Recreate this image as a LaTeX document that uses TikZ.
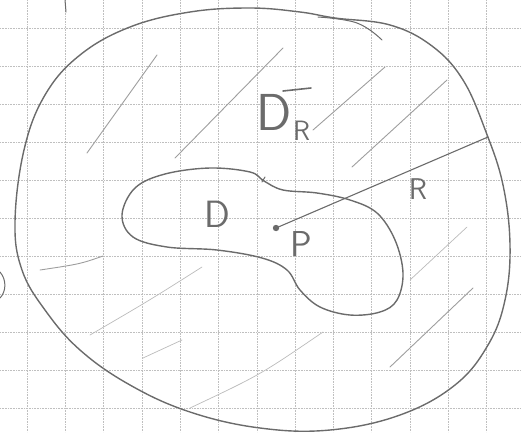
\documentclass[tikz,border=0pt]{standalone}
\usetikzlibrary{positioning}
\definecolor{pencil}{gray}{0.42}
\definecolor{lightpencil}{gray}{0.62}
\tikzset{
  paper/.style={densely dotted, gray!50, line width=0.6pt},
  curve/.style={draw=pencil, line width=1.4pt, line cap=round, line join=round},
  hatch/.style={draw=lightpencil, line width=0.9pt, line cap=round},
  faint/.style={draw=lightpencil!70, line width=0.7pt, line cap=round},
  lbl/.style={text=pencil, font=\sffamily, inner sep=0pt}
}
\begin{document}
\begin{tikzpicture}[x=1pt, y=-1pt]
  \useasboundingbox (0,0) rectangle (521,432);
  % graph paper
  \foreach \i in {0,...,13}
    \draw[paper] (27+38.3*\i,0) -- (27+38.3*\i,432);
  \foreach \j in {0,...,11}
    \draw[paper] (0,28+38*\j) -- (521,28+38*\j);
  % outer region
  \draw[curve] plot[smooth cycle, tension=0.65] coordinates {
    (15,222) (24,150) (45,95) (80,55) (130,27) (190,12) (250,8) (300,12)
    (335,18) (390,25) (432,46) (463,80) (486,132) (503,185) (510,245)
    (505,300) (488,345) (455,385) (400,415) (330,430) (260,428) (190,412)
    (130,385) (80,350) (45,310) (22,270)};
  \draw[curve, line width=1pt] plot[smooth, tension=0.7] coordinates {(318,17) (357,23) (382,40)};
  % inner domain D
  \draw[curve] plot[smooth cycle, tension=0.6] coordinates {
    (122,215) (135,188) (165,174) (210,168) (250,172) (264,181) (283,190)
    (317,193) (350,200) (377,213) (395,240) (403,273) (397,300) (380,312)
    (350,315) (320,307) (300,290) (287,270) (262,258) (217,250) (167,247)
    (133,237)};
  \draw[curve, line width=1pt] (262,182) -- (265,177);
  % hatching
  \draw[hatch] (157,55) -- (87,153);
  \draw[hatch] (283,48) -- (175,158);
  \draw[hatch] (385,67) -- (313,130);
  \draw[hatch] (447,80) -- (352,167);
  \draw[faint] (467,227) -- (410,280);
  \draw[hatch] (473,288) -- (390,367);
  \draw[hatch] (103,256) .. controls (80,264) .. (40,270);
  \draw[faint] (202,267) .. controls (150,300) .. (90,335);
  \draw[faint] (182,340) -- (143,358);
  \draw[faint] (323,332) .. controls (260,375) .. (190,408);
  % margin marks
  \draw[curve, line width=1pt] (0,272) .. controls (7,280) and (6,292) .. (0,298);
  \draw[curve, line width=1pt] (65,0) -- (66,12);
  % point P and radius
  \coordinate (P) at (276,228);
  \coordinate (Rend) at (488,137);
  \fill[pencil] (P) circle (3.2);
  \draw[curve, line width=1.1pt] (P) -- (Rend);
  % labels
  \node[lbl, font=\sffamily\fontsize{38}{40}\selectfont] (Dlbl) at (217,214) {D};
  \node[lbl, font=\sffamily\fontsize{36}{38}\selectfont] (Plbl) at (301,244) {P};
  \node[lbl, font=\sffamily\fontsize{30}{32}\selectfont] (Rlbl) at (418,189) {R};
  \node[lbl, font=\sffamily\fontsize{52}{54}\selectfont] (DRlbl) at (274,112) {D};
  \node[lbl, font=\sffamily\fontsize{28}{30}\selectfont, anchor=base west, yshift=-10pt, xshift=1pt]
    (DRsub) at (DRlbl.base east) {R};
  \draw[curve, line width=1.6pt] (283,91) -- (311,88);
\end{tikzpicture}
\end{document}
